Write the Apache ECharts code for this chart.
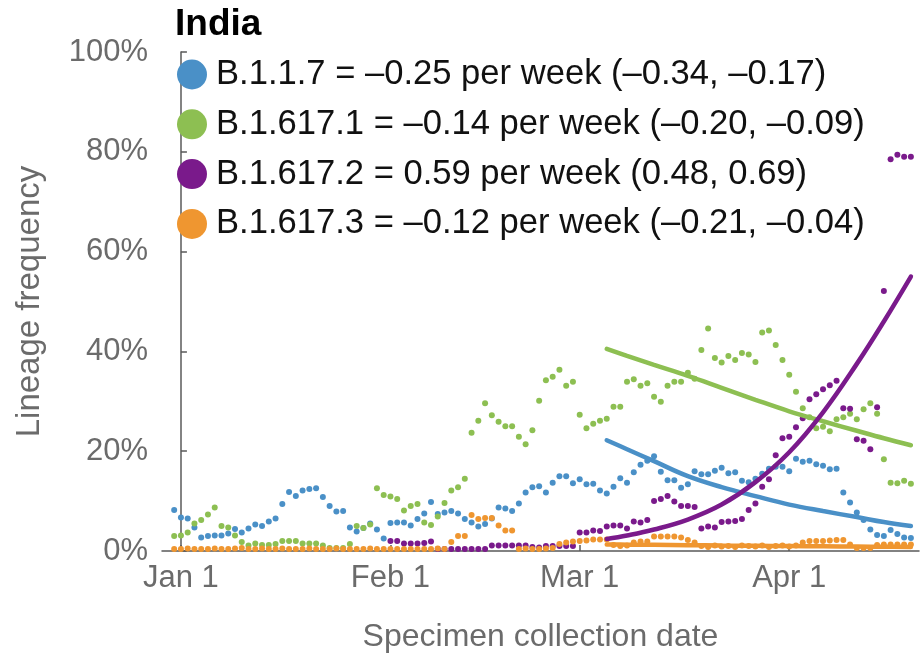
<!DOCTYPE html>
<html>
<head>
<meta charset="utf-8">
<script src="https://cdn.jsdelivr.net/npm/echarts@6/dist/echarts.min.js"></script>
<style>
  html, body { margin: 0; padding: 0; background: #ffffff; }
  #chart { width: 921px; height: 659px; }
</style>
</head>
<body>
<div id="chart"></div>
<script>
// Daily lineage frequencies (%) in India, one value per day starting Dec 31
// (day -1 counted from Jan 1).
const firstDay = -1;

const lineages = ['B.1.1.7', 'B.1.617.1', 'B.1.617.2', 'B.1.617.3'];
const legendText = [
  'B.1.1.7 = \u20130.25 per week (\u20130.34, \u20130.17)',
  'B.1.617.1 = \u20130.14 per week (\u20130.20, \u20130.09)',
  'B.1.617.2 = 0.59 per week (0.48, 0.69)',
  'B.1.617.3 = \u20130.12 per week (\u20130.21, \u20130.04)'
];
const colors = ['#4a90c7', '#8dbf52', '#7a1a8b', '#ef9630'];

const freqB117 = [
  8.2, 6.7, 6.5, 4.7, 2.7, 3.0, 3.1, 3.1, 3.5, 4.4,
  3.7, 4.5, 5.3, 5.0, 5.9, 6.5, 9.4, 11.8, 11.0, 12.1,
  12.4, 12.6, 10.8, 9.0, 7.9, 8.0, 4.7, 3.9, 4.6, 5.5,
  4.3, 2.5, 5.6, 5.7, 5.7, 5.1, 6.4, 7.5, 9.8, 7.4,
  7.7, 8.0, 7.5, 6.4, 5.7, 4.9, 5.4, 6.5, 8.7, 8.5,
  8.0, 9.5, 11.7, 12.8, 13.0, 11.7, 13.7, 15.0, 15.0, 13.6,
  14.4, 13.4, 13.5, 12.1, 11.5, 12.9, 14.6, 13.7, 15.8, 17.3,
  18.1, 19.0, 15.9, 14.2, 14.2, 12.7, 13.4, 16.0, 15.4, 15.4,
  16.1, 16.7, 15.6, 15.8, 14.1, 13.8, 14.5, 15.5, 16.5, 16.9,
  16.9, 16.0, 18.5, 17.9, 18.1, 17.4, 17.1, 16.4, 16.5, 11.7,
  9.7, 7.7, 6.2, 4.3, 3.2, 3.0, 4.2, 3.4, 2.7, 2.6
];

const freqB16171 = [
  3.0, 3.1, 3.7, 5.5, 6.2, 7.3, 8.7, 5.0, 4.7, 3.1,
  1.8, 1.1, 1.5, 1.2, 1.2, 1.4, 2.0, 2.0, 2.0, 1.5,
  1.5, 1.5, 1.1, 0.6, 0.6, 0.6, 1.4, 5.0, 4.6, 5.3,
  12.6, 11.2, 10.9, 10.4, 8.1, 9.0, 9.4, 5.7, 5.2, 6.9,
  9.6, 12.1, 12.8, 14.5, 23.7, 26.1, 29.6, 27.2, 25.9, 25.0,
  25.0, 22.9, 21.4, 24.2, 30.1, 34.2, 34.9, 36.3, 33.1, 33.9,
  27.3, 24.6, 25.5, 26.1, 26.5, 28.9, 28.9, 33.9, 34.4, 33.1,
  33.6, 30.9, 29.9, 33.1, 33.9, 33.9, 35.7, 34.5, 40.3, 44.6,
  38.7, 37.8, 39.1, 38.3, 39.7, 39.4, 37.9, 43.8, 44.2, 41.3,
  38.3, 35.3, 31.9, 28.6, 26.8, 24.6, 24.9, 24.0, 26.4, 26.8,
  27.5, 26.4, 28.4, 29.6, 27.5, 18.4, 13.7, 13.6, 14.1, 13.5
];

const freqB16172 = [
  null, null, null, null, null, null, null, null, null, null,
  null, null, null, null, null, null, null, null, null, null,
  null, null, null, null, null, null, null, null, null, null,
  null, null, 2.0, 2.0, 1.5, 1.5, 1.5, 1.6, 1.9, 0.4,
  0.4, 0.4, 0.4, 0.4, 0.4, 0.4, 0.4, 1.1, 1.1, 1.1,
  1.1, 1.1, 1.1, 0.8, 0.7, 1.0, 1.0, 1.0, 1.0, 1.0,
  3.7, 3.7, 4.1, 4.0, 4.9, 5.1, 5.1, 4.5, 5.9, 5.7,
  6.2, 10.0, 10.4, 11.0, 9.9, 9.0, 9.0, 8.8, 4.5, 4.9,
  4.7, 5.8, 5.9, 6.0, 6.4, 8.2, 9.5, 12.9, 14.4, 19.2,
  22.6, 22.9, 24.8, 26.6, 30.4, 31.4, 32.4, 33.2, 34.1, 28.6,
  28.5, 22.4, 22.1, 20.4, 28.8, 52.1, 78.5, 79.4, 79.0, 79.0
];

const freqB16173 = [
  0.4, 0.4, 0.5, 0.4, 0.4, 0.4, 0.5, 0.4, 0.4, 0.5,
  0.6, 0.4, 0.4, 0.5, 0.4, 0.4, 0.5, 0.4, 0.4, 0.4,
  0.5, 0.4, 0.4, 0.4, 0.5, 0.4, 0.4, 0.4, 0.4, 0.5,
  0.4, 0.4, 0.4, 0.4, 0.4, 0.4, 0.4, 0.4, 0.4, 0.5,
  0.4, 1.8, 3.0, 3.0, 7.2, 6.4, 6.6, 6.6, 5.1, 4.1,
  4.1, 0.4, 0.5, 0.4, 0.4, 0.5, 0.6, 1.4, 1.7, 1.9,
  2.0, 2.1, 2.3, 2.3, 2.3, 1.2, 1.0, 1.1, 1.7, 1.9,
  1.9, 2.9, 2.9, 2.9, 2.9, 2.7, 2.2, 1.7, 1.0, 0.8,
  1.1, 0.9, 1.0, 0.8, 1.1, 1.0, 0.9, 1.1, 0.8, 1.0,
  1.1, 0.9, 1.1, 1.7, 2.0, 2.0, 2.0, 2.1, 2.2, 2.2,
  1.3, 0.6, 0.6, 0.6, 1.2, 1.3, 1.3, 1.3, 1.3, 1.3
];

// Fitted growth curves, read at selected days (from Mar 5 to Apr 18)
const fitDays   = [63, 66, 70, 75, 80, 85, 90, 95, 100, 104, 108];
const fitB117   = [22.2, 20.4, 18.0, 15.0, 12.8, 11.0, 9.3, 8.0, 6.8, 5.8, 5.0];
const fitB16171 = [40.5, 39.1, 37.3, 35.1, 32.7, 30.3, 28.0, 26.0, 24.1, 22.6, 21.2];
const fitB16172 = [2.4, 3.1, 4.3, 6.3, 9.3, 13.8, 19.8, 27.8, 37.5, 46.0, 55.0];
const fitB16173 = [1.3, 1.27, 1.23, 1.17, 1.1, 1.05, 1.0, 0.95, 0.9, 0.85, 0.8];

// Month ticks on the date axis
const tickDays   = [0, 31, 59, 90];
const tickLabels = ['Jan 1', 'Feb 1', 'Mar 1', 'Apr 1'];
const yTicks = [0, 20, 40, 60, 80, 100];

const daily = [freqB117, freqB16171, freqB16172, freqB16173];
const fits  = [fitB117, fitB16171, fitB16172, fitB16173];

function toPoints(values) {
  const pts = [];
  values.forEach((v, i) => { if (v !== null) pts.push([firstDay + i, v]); });
  return pts;
}
function fitPoints(values) {
  return fitDays.map((d, i) => [d, values[i]]);
}

const font = 'Liberation Sans, Arial, Helvetica, sans-serif';
const grey = '#6b6b6b';
const axisGrey = '#5a5a5a';

const series = [];
lineages.forEach((name, k) => {
  series.push({
    name: name,
    type: 'scatter',
    data: toPoints(daily[k]),
    symbol: 'circle',
    symbolSize: 6,
    itemStyle: { color: colors[k], opacity: 1 },
    z: 2,
    silent: true
  });
});
// fitted curves drawn over the dots; B.1.617.2 on top
[0, 1, 3, 2].forEach((k, order) => {
  series.push({
    name: lineages[k] + ' fit',
    type: 'line',
    data: fitPoints(fits[k]),
    smooth: 0.4,
    showSymbol: false,
    lineStyle: { color: colors[k], width: 4.5, cap: 'round' },
    itemStyle: { color: colors[k] },
    z: 3 + order,
    silent: true
  });
});

const chart = echarts.init(document.getElementById('chart'), null, { renderer: 'canvas' });
chart.setOption({
  animation: false,
  backgroundColor: '#ffffff',
  title: {
    text: 'India',
    left: 175,
    top: 6,
    padding: 0,
    textStyle: { fontFamily: font, fontSize: 37, fontWeight: 'bold', color: '#000000' }
  },
  legend: {
    data: lineages,
    orient: 'vertical',
    left: 177,
    top: 57,
    padding: 0,
    icon: 'circle',
    itemWidth: 30,
    itemHeight: 30,
    itemGap: 14.8,
    selectedMode: false,
    formatter: (name) => legendText[lineages.indexOf(name)],
    textStyle: { fontFamily: font, fontSize: 34.6, color: '#111111', padding: [0, 0, 0, 4] }
  },
  grid: { left: 162, right: 2, top: 52, bottom: 108, containLabel: false },
  xAxis: {
    type: 'value',
    min: -2.8,
    max: 109.2,
    name: 'Specimen collection date',
    nameLocation: 'middle',
    nameGap: 70,
    nameTextStyle: { fontFamily: font, fontSize: 32, color: grey },
    splitLine: { show: false },
    axisLine: { show: true, lineStyle: { color: axisGrey, width: 1.5 } },
    axisTick: { show: true, inside: true, length: 6, customValues: tickDays,
                lineStyle: { color: axisGrey, width: 1.5 } },
    axisLabel: {
      customValues: tickDays,
      formatter: (v) => tickLabels[tickDays.indexOf(v)],
      fontFamily: font, fontSize: 31, color: grey, margin: 12
    }
  },
  yAxis: {
    type: 'value',
    min: 0,
    max: 100,
    interval: 20,
    name: 'Lineage frequency',
    nameLocation: 'middle',
    nameGap: 116,
    nameTextStyle: { fontFamily: font, fontSize: 33, color: grey },
    splitLine: { show: false },
    axisLine: { show: true, lineStyle: { color: axisGrey, width: 1.5 } },
    axisTick: { show: true, inside: true, length: 6, customValues: yTicks,
                lineStyle: { color: axisGrey, width: 1.5 } },
    axisLabel: {
      customValues: yTicks,
      formatter: (v) => v + '%',
      fontFamily: font, fontSize: 31, color: grey, margin: 14
    }
  },
  series: series
});
</script>
</body>
</html>
